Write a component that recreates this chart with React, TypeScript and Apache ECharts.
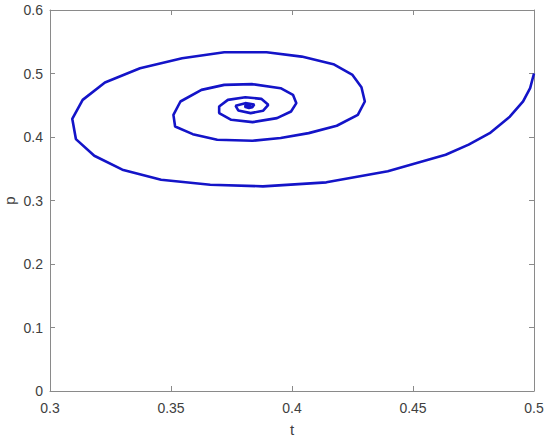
import React, { useEffect, useRef } from "react";
import * as echarts from "echarts";

const tValues: number[] = [
  0.5, 0.4984, 0.4955, 0.4900, 0.4817, 0.4730, 0.4635, 0.4396, 0.4142, 0.388,
  0.3662, 0.3459, 0.3299, 0.3183, 0.3107, 0.3092, 0.3135, 0.3227, 0.3372, 0.3546,
  0.372, 0.3895, 0.404, 0.4171, 0.425, 0.4287, 0.4301, 0.4272, 0.4185, 0.4069,
  0.3953, 0.3837, 0.3691, 0.359, 0.3517, 0.351, 0.3539, 0.3626, 0.372, 0.3837,
  0.3953, 0.4004, 0.4018, 0.3996, 0.3938, 0.3837, 0.3749, 0.3699, 0.3699, 0.3735,
  0.3807, 0.3873, 0.3902, 0.388, 0.3829, 0.3778, 0.3767, 0.3807, 0.3844, 0.3836,
  0.3822, 0.3805, 0.3810, 0.3828, 0.3826, 0.3816, 0.3819,
];
const pValues: number[] = [
  0.5, 0.477, 0.456, 0.432, 0.406, 0.388, 0.372, 0.346, 0.3286, 0.3223,
  0.3249, 0.3327, 0.3485, 0.3705, 0.3967, 0.4286, 0.4585, 0.4858, 0.5083, 0.524,
  0.5334, 0.5334, 0.5266, 0.5146, 0.4978, 0.4784, 0.4559, 0.4349, 0.4177, 0.4061,
  0.3983, 0.3941, 0.3956, 0.4045, 0.4166, 0.4349, 0.4559, 0.4742, 0.4821, 0.4832,
  0.4769, 0.4664, 0.4533, 0.4402, 0.4297, 0.4234, 0.4271, 0.4376, 0.448, 0.4585,
  0.4627, 0.4601, 0.4507, 0.4412, 0.4376, 0.4418, 0.4491, 0.4533, 0.4512, 0.4470,
  0.4458, 0.4478, 0.4500, 0.4496, 0.4478, 0.4484, 0.4491,
];
const xTicks: number[] = [0.3, 0.35, 0.4, 0.45, 0.5];
const yTicks: number[] = [0, 0.1, 0.2, 0.3, 0.4, 0.5, 0.6];

export default function App() {
  const ref = useRef<HTMLDivElement>(null);
  useEffect(() => {
    if (!ref.current) return;
    const chart = echarts.init(ref.current, null, { renderer: "svg" });
    const axisColor = "#8a8a8a";
    const labelStyle = { color: "#404040", fontSize: 14, fontFamily: "Liberation Sans, Arial, sans-serif" };
    const data = tValues.map((t, i) => [t, pValues[i]]);
    const baseX = {
      type: "value" as const,
      min: xTicks[0],
      max: xTicks[xTicks.length - 1],
      interval: 0.05,
      splitLine: { show: false },
      axisLine: { show: true, onZero: false, lineStyle: { color: axisColor, width: 1 } },
      axisTick: { show: true, inside: true, length: 5, lineStyle: { color: axisColor } },
    };
    const baseY = {
      type: "value" as const,
      min: yTicks[0],
      max: yTicks[yTicks.length - 1],
      interval: 0.1,
      splitLine: { show: false },
      axisLine: { show: true, onZero: false, lineStyle: { color: axisColor, width: 1 } },
      axisTick: { show: true, inside: true, length: 5, lineStyle: { color: axisColor } },
    };
    chart.setOption({
      animation: false,
      backgroundColor: "#ffffff",
      grid: { left: 50, right: 16, top: 10, bottom: 50, containLabel: false, outerBoundsMode: "none" },
      xAxis: [
        {
          ...baseX,
          position: "bottom",
          name: "t",
          nameLocation: "middle",
          nameGap: 31,
          nameTextStyle: { ...labelStyle, fontSize: 15 },
          axisLabel: { ...labelStyle, margin: 10, formatter: (v: number) => String(+v.toFixed(2)) },
        },
        { ...baseX, position: "top", axisLabel: { show: false } },
      ],
      yAxis: [
        {
          ...baseY,
          position: "left",
          name: "p",
          nameLocation: "middle",
          nameGap: 33,
          nameMoveOverlap: false,
          nameTextStyle: { ...labelStyle, fontSize: 15 },
          axisLabel: { ...labelStyle, margin: 7, formatter: (v: number) => String(+v.toFixed(1)) },
        },
        { ...baseY, position: "right", axisLabel: { show: false } },
      ],
      series: [
        {
          type: "line",
          data,
          xAxisIndex: 0,
          yAxisIndex: 0,
          showSymbol: false,
          smooth: false,
          lineStyle: { color: "#1414c8", width: 2.6 },
          itemStyle: { color: "#1414c8" },
        },
      ],
    });
    return () => chart.dispose();
  }, []);
  return (
    <div
      ref={ref}
      style={{ position: "fixed", left: 0, top: 0, width: 550, height: 441, background: "#fff" }}
    />
  );
}
